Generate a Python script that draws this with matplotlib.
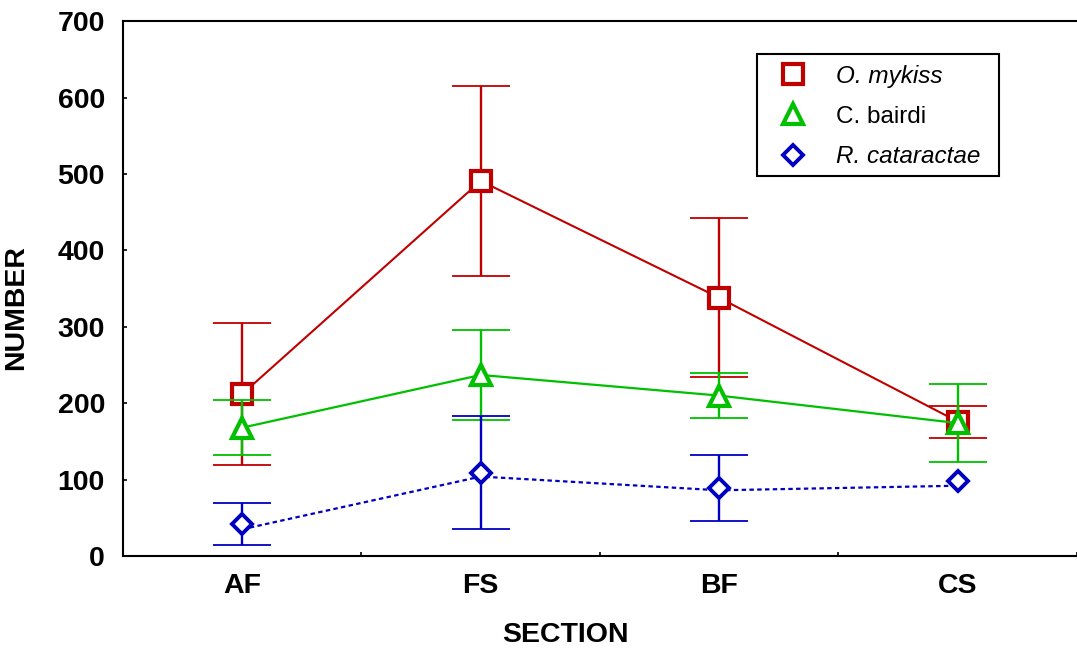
import matplotlib
matplotlib.use('Agg')
import matplotlib.pyplot as plt
from matplotlib.lines import Line2D
from matplotlib.patches import Rectangle

plt.rcParams['font.family'] = ['Liberation Sans', 'DejaVu Sans']

sections = ['AF', 'FS', 'BF', 'CS']

# mean counts per section with +/- error
mykiss = [212, 491, 338, 176]
mykiss_err = [93, 124, 104, 21]
bairdi = [168, 237, 210, 174]
bairdi_err = [36, 59, 29, 51]
cataractae = [42, 109, 89, 98]
cataractae_err = [28, 74, 43, 0]
# fitted trend drawn as dotted line for R. cataractae
cataractae_trend = [35, 104, 86, 92]

red = '#C00000'
green = '#00C000'
blue = '#0000C0'

W, H = 1077, 649
fig = plt.figure(figsize=(W / 100, H / 100), dpi=100)
ax = fig.add_axes([0.1142, 0.1433, 0.8858, 0.8239])
x = list(range(len(sections)))


def bars(xs, ys, errs, color, z):
    # skip points without spread so no flat cap is drawn
    keep = [i for i, e in enumerate(errs) if e > 0]
    ax.errorbar([xs[i] for i in keep], [ys[i] for i in keep],
                yerr=[errs[i] for i in keep], color=color, ls='none',
                elinewidth=1.7, capsize=21, capthick=1.3, zorder=z)


bars(x, mykiss, mykiss_err, red, 2)
ax.plot(x, mykiss, color=red, lw=1.5, marker='s', ms=15, mew=3,
        mfc='white', mec=red, zorder=3)
bars(x, bairdi, bairdi_err, green, 4)
ax.plot(x, bairdi, color=green, lw=1.6, marker='^', ms=15, mew=3,
        mfc='white', mec=green, zorder=5)
bars(x, cataractae, cataractae_err, blue, 6)
ax.plot(x, cataractae_trend, color=blue, lw=1.6, ls=(0, (2, 1.5)), zorder=6)
ax.plot(x, cataractae, ls='none', marker='D', ms=10, mew=2.8,
        mfc='white', mec=blue, zorder=7)

ax.set_xlim(-0.5, 3.475)
ax.set_ylim(0, 700)
ax.set_yticks(range(0, 701, 100))
ax.set_xticks(x)
ax.set_xticklabels(sections)
ax.set_xticks([-0.5, 0.5, 1.5, 2.5, 3.5], minor=True)

ax.tick_params(axis='y', direction='in', length=3, width=1.2, pad=13,
               labelsize=20.5)
ax.tick_params(axis='x', which='major', length=0, pad=12, labelsize=20.5)
ax.tick_params(axis='x', which='minor', direction='in', length=3, width=1.2)
for lab in ax.get_xticklabels() + ax.get_yticklabels():
    lab.set_fontweight('bold')

ax.spines['right'].set_visible(False)
for s in ['left', 'bottom', 'top']:
    ax.spines[s].set_linewidth(1.5)

ax.set_xlabel('SECTION', fontsize=20.5, fontweight='bold')
ax.set_ylabel('NUMBER', fontsize=20.5, fontweight='bold')
ax.xaxis.set_label_coords(0.464, -0.123)
ax.yaxis.set_label_coords(-0.0985, 0.465)

handles = [
    Line2D([], [], ls='none', marker='s', ms=15, mew=3, mfc='white', mec=red),
    Line2D([], [], ls='none', marker='^', ms=15, mew=3, mfc='white', mec=green),
    Line2D([], [], ls='none', marker='D', ms=10, mew=2.8, mfc='white', mec=blue),
]
leg = fig.legend(handles, ['O. mykiss', 'C. bairdi', 'R. cataractae'],
                 loc='upper left', bbox_to_anchor=(757 / W, 1 - 54 / H),
                 borderaxespad=0, fontsize=17.5, frameon=False,
                 borderpad=0.45, handlelength=2.1, handletextpad=0.7,
                 labelspacing=0.73)
for t, it in zip(leg.get_texts(), [True, False, True]):
    if it:
        t.set_fontstyle('italic')

# legend box
fig.add_artist(Rectangle((757 / W, 1 - 176 / H), (999 - 757) / W, 122 / H,
                         transform=fig.transFigure, fill=False,
                         edgecolor='black', lw=1.5, zorder=10))

fig.savefig('out.png', dpi=100)
